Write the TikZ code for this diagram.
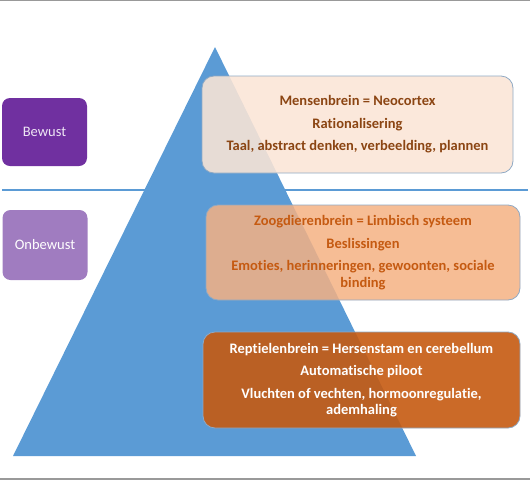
\documentclass[tikz,border=0pt]{standalone}
\usepackage{fontspec}
\setmainfont{Carlito}[RawFeature={-liga;-dlig}]
\begin{document}
\begin{tikzpicture}[x=1pt,y=-1pt,
  lbox/.style={rounded corners=8pt, minimum width=85pt, minimum height=68pt, inner sep=0pt, font=\fontsize{14.5}{17}\selectfont},
  rbox/.style={rounded corners=12pt, draw=frameblue, line width=0.8pt, inner sep=0pt, align=center,
     font=\bfseries\fontsize{14.5}{16.5}\selectfont},
  frame/.style={draw=gray!80, line width=1.2pt}]
\definecolor{tblue}{HTML}{5B9BD5}
\definecolor{frameblue}{HTML}{8FA9C4}
\definecolor{peach}{HTML}{FBE5D6}
\definecolor{lorange}{HTML}{F4B183}
\definecolor{dorange}{HTML}{C55A11}
\definecolor{brown}{HTML}{8B4513}
\definecolor{dpurple}{HTML}{7030A0}
\definecolor{lpurple}{HTML}{A07CC0}
\useasboundingbox (0,0) rectangle (530,480);
\coordinate (ftl) at (0,0.6); \coordinate (ftr) at (530,0.6);
\coordinate (fbl) at (0,479); \coordinate (fbr) at (530,479);
\draw[frame] (ftl) -- (ftr);
\draw[frame] (fbl) -- (fbr);
\coordinate (apex) at (215,47);
\coordinate (bl) at (13,456);
\coordinate (br) at (416,456);
\fill[tblue] (apex) -- (br) -- (bl) -- cycle;
\coordinate (hl) at (2,190); \coordinate (hr) at (528,190);
\draw[tblue, line width=2.6pt] (hl) -- (hr);
\node[lbox, fill=dpurple, text=dpurple!12] (bewust) at (44.5,132) {Bewust};
\node[lbox, fill=lpurple, text=white, minimum height=70pt] (onbewust) at (45,245) {Onbewust};
\node[rbox, fill=peach, fill opacity=0.88, text opacity=1, text=brown, minimum width=311pt, minimum height=97pt] (neo) at (357.5,124.5)
  {Mensenbrein = Neocortex\\[6pt]Rationalisering\\[6pt]Taal, abstract denken, verbeelding, plannen};
\node[rbox, fill=lorange, fill opacity=0.85, text opacity=1, text=dorange, minimum width=314pt, minimum height=95pt] (limb) at (363,252.5)
  {Zoogdierenbrein = Limbisch systeem\\[6pt]Beslissingen\\[6pt]Emoties, herinneringen, gewoonten, sociale\\binding};
\node[rbox, fill=dorange, fill opacity=0.9, text opacity=1, text=white, minimum width=317pt, minimum height=96pt] (rept) at (361.5,380)
  {Reptielenbrein = Hersenstam en cerebellum\\[6pt]Automatische piloot\\[6pt]Vluchten of vechten, hormoonregulatie,\\ademhaling};
\end{tikzpicture}
\end{document}
